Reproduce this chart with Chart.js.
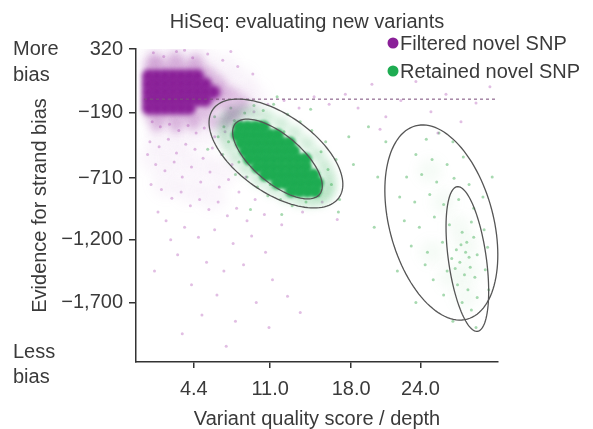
<!DOCTYPE html>
<html>
<head>
<meta charset="utf-8">
<script src="https://cdn.jsdelivr.net/npm/chart.js@4.4.1/dist/chart.umd.min.js"></script>
<style>
  html, body { margin: 0; padding: 0; background: #fff; }
  #wrap { width: 593px; height: 429px; }
</style>
</head>
<body>
<div id="wrap"><canvas id="chart" width="593" height="429"></canvas></div>
<script>
// axis ticks
const xTickValues = [4.4, 11.0, 18.0, 24.0];
const xTickLabels = ["4.4", "11.0", "18.0", "24.0"];
const yTickValues = [320, -190, -710, -1200, -1700];
const yTickLabels = ["320", "\u2212190", "\u2212710", "\u22121,200", "\u22121,700"];

// strand bias cut-off (dashed line)
const biasCutoff = -80;

// filtered novel SNP: dense core, halo, haze, sparse points  [x, y]
const filteredCore = [
  [0.5, 105], [1.2, 105], [1.9, 105], [2.6, 105], [3.3, 105], [4.0, 105], [4.7, 105],
  [0.5, 41], [1.2, 41], [1.9, 41], [2.6, 41], [3.3, 41], [4.0, 41], [4.7, 41], [5.4, 41],
  [0.5, -23], [1.2, -23], [1.9, -23], [2.6, -23], [3.3, -23], [4.0, -23], [4.7, -23], [5.4, -23], [6.1, -23],
  [0.5, -87], [1.2, -87], [1.9, -87], [2.6, -87], [3.3, -87], [4.0, -87], [4.7, -87], [5.4, -87],
  [0.5, -150], [1.2, -150], [1.9, -150], [2.6, -150], [3.3, -150], [4.0, -150]
];
const filteredHalo = [
  [0.6, 180], [1.5, 190], [2.4, 175], [3.3, 185], [4.2, 170], [5.1, 150], [5.8, 110],
  [6.5, 60], [6.9, 0], [6.7, -60], [6.2, -120], [5.4, -170], [4.6, -210], [3.6, -220],
  [2.6, -230], [1.6, -220], [0.7, -210], [7.4, -140], [8.0, -200], [7.2, -250], [6.0, -260],
  [1.2, -290], [2.9, -300], [4.4, -280], [7.8, -40], [8.6, -110], [1.0, 240], [2.8, 250], [4.6, 230]
];
const filteredHaze = [
  [1.0, 260], [3.0, 270], [5.0, 240], [7.0, 170], [8.5, 60], [9.5, -60], [9.0, -180],
  [7.5, -330], [5.5, -350], [3.5, -380], [1.5, -370], [1.0, -550], [3.0, -560], [5.0, -600],
  [7.0, -650], [2.0, -750], [4.0, -800], [6.0, -850]
];
const filteredSparse = [
  [0.8, -260], [1.5, -300], [2.3, -280], [3.1, -330], [3.9, -290], [4.6, -350], [5.3, -310], [6.2, -380],
  [7.1, -340], [0.6, -420], [1.4, -460], [2.2, -400], [2.9, -510], [3.7, -440], [4.5, -480], [5.2, -550],
  [6.0, -470], [6.8, -520], [7.7, -600], [1.1, -600], [1.9, -650], [2.7, -580], [3.4, -700], [4.2, -620],
  [5.0, -740], [5.8, -660], [6.6, -780], [7.4, -720], [8.3, -820], [1.6, -800], [2.5, -870], [3.3, -820],
  [4.1, -930], [4.9, -880], [5.7, -960], [6.5, -900], [7.3, -1010], [8.1, -950], [9.0, -1050],
  [2.0, -1050], [3.6, -1100], [4.8, -1180], [6.2, -1120], [7.8, -1230], [9.4, -1170], [10.6, -1300],
  [3.0, -1320], [5.5, -1380], [7.0, -1450], [8.7, -1400], [11.2, -1520], [4.2, -1560], [6.4, -1640],
  [9.8, -1700], [12.5, -1650], [5.1, -1800], [8.0, -1850], [10.9, -1900], [13.6, -1780], [3.4, -1950],
  [7.2, -2050], [8.5, -250], [9.6, -180], [10.8, -120], [12.2, -90], [13.5, -150], [14.8, -60],
  [16.1, -120], [17.5, -40], [8.9, -700], [9.7, -880], [10.5, -1000], [12.0, -1080], [13.8, -980],
  [15.5, -900], [16.8, -1040], [18.6, -150], [19.8, 40], [21.0, -220], [22.3, -90], [23.6, 60],
  [24.9, -180], [26.2, -40], [27.5, -260], [28.8, -110], [30.0, 20], [20.5, -320], [25.5, -350],
  [0.9, 290], [1.8, 260], [2.9, 300], [4.3, 250], [5.6, 280], [6.9, 230], [8.2, 180], [9.5, 120],
  [3.6, 310], [7.6, 300], [0.4, -520], [0.7, -760], [1.3, -980], [2.4, -1200], [1.0, -1450]
];

// retained novel SNP
const retainedCore = [
  [8.35, -302], [9.04, -302], [9.73, -302], [10.42, -302],
  [8.17, -366], [8.86, -366], [9.56, -366], [10.25, -366], [10.94, -366], [11.63, -366],
  [8.52, -429], [9.21, -429], [9.90, -429], [10.59, -429], [11.28, -429], [11.98, -429], [12.67, -429],
  [8.86, -493], [9.56, -493], [10.25, -493], [10.94, -493], [11.63, -493], [12.32, -493], [13.01, -493],
  [9.21, -557], [9.90, -557], [10.59, -557], [11.28, -557], [11.98, -557], [12.67, -557], [13.36, -557], [14.05, -557],
  [9.90, -621], [10.59, -621], [11.28, -621], [11.98, -621], [12.67, -621], [13.36, -621], [14.05, -621],
  [10.59, -685], [11.28, -685], [11.98, -685], [12.67, -685], [13.36, -685], [14.05, -685], [14.74, -685],
  [11.63, -748], [12.32, -748], [13.01, -748], [13.70, -748], [14.40, -748], [15.09, -748],
  [12.84, -812], [13.53, -812], [14.22, -812], [14.91, -812]
];
const retainedHalo = [
  [15.91, -833], [15.37, -872], [14.56, -887], [13.57, -878], [12.43, -847], [11.22, -792],
  [10.05, -721], [8.98, -638], [8.08, -545], [7.44, -452], [7.07, -367], [7.01, -291],
  [7.26, -232], [7.80, -194], [8.61, -179], [9.60, -187], [10.74, -219], [11.95, -273],
  [13.12, -345], [14.18, -430], [15.09, -521], [15.73, -613], [16.10, -699], [16.16, -775]
];
const retainedHaze = [
  [28.0, -1250], [28.1, -1450], [27.9, -1650], [27.3, -1100], [26.0, -900], [25.0, -1300],
  [24.8, -650], [26.6, -1500]
];
const retainedSparse = [
  [7.0, -300], [7.4, -420], [7.9, -250], [8.3, -580], [8.8, -190], [9.0, -700], [9.6, -130], [9.9, -780],
  [10.4, -170], [10.8, -850], [11.3, -120], [11.9, -880], [12.5, -200], [12.9, -930], [13.6, -260],
  [14.1, -900], [14.6, -330], [15.2, -850], [15.8, -420], [16.3, -760], [16.7, -560], [16.0, -640],
  [6.5, -380], [6.9, -520], [8.0, -680], [10.2, -260], [13.9, -780], [15.4, -500], [12.2, -340],
  [11.0, -760], [9.4, -620], [8.6, -420], [14.8, -700], [13.0, -820], [10.0, -330], [7.6, -150],
  [6.2, -220], [17.0, -880], [16.9, -980], [12.0, -1000], [9.3, -960], [18.2, -600], [17.8, -380],
  [5.6, -480], [11.6, -60], [14.5, -160],
  [24.5, -400], [25.6, -350], [26.8, -420], [23.6, -520], [25.0, -560], [26.3, -600], [27.7, -540],
  [22.8, -700], [24.1, -680], [25.4, -740], [26.9, -710], [28.2, -760], [22.2, -860], [23.5, -900],
  [24.8, -840], [26.0, -920], [27.3, -880], [28.6, -950], [29.4, -860], [22.6, -1050], [23.9, -1100],
  [25.2, -1020], [26.5, -1080], [27.6, -1140], [28.4, -1060], [29.5, -1120], [23.2, -1250], [24.6, -1300],
  [25.9, -1220], [27.1, -1280], [28.0, -1220], [28.9, -1320], [29.8, -1260], [27.4, -1380], [28.3, -1420],
  [27.8, -1480], [28.7, -1500], [27.2, -1560], [28.1, -1600], [28.9, -1660], [27.6, -1700], [28.4, -1760],
  [26.3, -1450], [25.1, -1520], [26.0, -1640], [24.4, -1400], [29.6, -1440], [27.9, -1300], [28.6, -1180],
  [27.0, -1430], [28.2, -1340], [27.5, -1240], [26.7, -1350], [21.0, -420], [20.3, -700], [19.5, -300],
  [30.2, -700], [29.9, -1600], [22.0, -1450], [23.6, -1700], [26.8, -1850], [28.8, -1900], [20.0, -1100]
];

// contour ellipses: centre and two conjugate semi-axes, in data units
const ellipseCentres = [[11.50, -513], [11.63, -557], [25.80, -1063], [28.05, -1354]];
const ellipseAxisU = [[5.45, -352], [3.64, -282], [2.24, -770], [0.88, -576]];
const ellipseAxisV = [[-1.94, -254], [-1.33, -147], [4.34, 108], [1.62, 21]];

const PURPLE = "rgb(138,32,152)";
const GREEN = "rgb(30,172,82)";
const TEXT = "#3a3a3a";
const FONT = "'Liberation Sans', Arial, Helvetica, sans-serif";

const toPts = (arr) => arr.map(([x, y]) => ({ x, y }));

// soften density layers
const blurLayers = {
  id: "blurLayers",
  beforeDatasetDraw(chart, args) {
    const b = chart.data.datasets[args.index].blur;
    if (b) {
      chart.ctx.save();
      chart.ctx.filter = "blur(" + b + "px)";
    }
  },
  afterDatasetDraw(chart, args) {
    if (chart.data.datasets[args.index].blur) chart.ctx.restore();
  }
};

const overlay = {
  id: "overlay",
  afterDatasetsDraw(chart) {
    const { ctx, chartArea, scales } = chart;
    const xs = scales.x, ys = scales.y;
    ctx.save();
    // dashed cut-off line
    const yy = ys.getPixelForValue(biasCutoff);
    ctx.strokeStyle = "rgba(125,80,125,0.8)";
    ctx.lineWidth = 1.3;
    ctx.setLineDash([3, 3]);
    ctx.beginPath();
    ctx.moveTo(chartArea.left + 8, yy);
    ctx.lineTo(chartArea.right, yy);
    ctx.stroke();
    ctx.setLineDash([]);
    // ellipses
    ctx.strokeStyle = "#555";
    ctx.lineWidth = 1.3;
    ellipseCentres.forEach((c, i) => {
      const u = ellipseAxisU[i], v = ellipseAxisV[i];
      ctx.beginPath();
      for (let k = 0; k <= 120; k++) {
        const t = (k / 120) * Math.PI * 2;
        const px = xs.getPixelForValue(c[0] + u[0] * Math.cos(t) + v[0] * Math.sin(t));
        const py = ys.getPixelForValue(c[1] + u[1] * Math.cos(t) + v[1] * Math.sin(t));
        if (k === 0) ctx.moveTo(px, py); else ctx.lineTo(px, py);
      }
      ctx.closePath();
      ctx.stroke();
    });
    ctx.restore();
  },
  afterDraw(chart) {
    const { ctx } = chart;
    ctx.save();
    ctx.fillStyle = TEXT;
    ctx.font = "20px " + FONT;
    ctx.textBaseline = "alphabetic";
    ctx.textAlign = "center";
    ctx.fillText("HiSeq: evaluating new variants", 307, 28);
    ctx.textAlign = "left";
    ctx.fillText("More", 13, 55);
    ctx.fillText("bias", 13, 81);
    ctx.fillText("Less", 13, 358);
    ctx.fillText("bias", 13, 383);
    // legend
    const items = [["Filtered novel SNP", PURPLE, 43], ["Retained novel SNP", GREEN, 71]];
    items.forEach(([label, col, y]) => {
      ctx.fillStyle = col;
      ctx.beginPath();
      ctx.arc(393, y, 5.5, 0, Math.PI * 2);
      ctx.fill();
      ctx.fillStyle = TEXT;
      ctx.fillText(label, 400, y + 7);
    });
    ctx.restore();
  }
};

const ctx = document.getElementById("chart").getContext("2d");
new Chart(ctx, {
  type: "scatter",
  data: {
    datasets: [
      { label: "Filtered novel SNP", data: toPts(filteredCore), backgroundColor: PURPLE, pointRadius: 7, blur: 2.6 },
      { label: "Retained novel SNP", data: toPts(retainedCore), backgroundColor: GREEN, pointRadius: 6.5, blur: 1.8 },
      { label: "filtered halo", data: toPts(filteredHalo), backgroundColor: "rgba(150,45,160,0.3)", pointRadius: 7, blur: 4 },
      { label: "retained halo", data: toPts(retainedHalo), backgroundColor: "rgba(40,170,80,0.25)", pointRadius: 7, blur: 4 },
      { label: "filtered haze", data: toPts(filteredHaze), backgroundColor: "rgba(190,110,195,0.07)", pointRadius: 14, blur: 6 },
      { label: "retained haze", data: toPts(retainedHaze), backgroundColor: "rgba(120,200,130,0.07)", pointRadius: 12, blur: 6 },
      { label: "filtered sparse", data: toPts(filteredSparse), backgroundColor: "rgba(170,70,175,0.35)", pointRadius: 1.5 },
      { label: "retained sparse", data: toPts(retainedSparse), backgroundColor: "rgba(60,170,80,0.45)", pointRadius: 1.5 }
    ]
  },
  options: {
    responsive: false,
    animation: false,
    devicePixelRatio: 1,
    layout: { padding: { top: 49, right: 95, left: 0, bottom: 0 } },
    elements: { point: { borderWidth: 0, hoverRadius: 0 } },
    plugins: { legend: { display: false }, tooltip: { enabled: false } },
    scales: {
      x: {
        type: "linear",
        min: -0.6,
        max: 30.7,
        afterFit: (s) => { s.height = 67; },
        afterBuildTicks: (s) => { s.ticks = xTickValues.map((v) => ({ value: v })); },
        ticks: {
          color: TEXT,
          font: { size: 20, family: FONT },
          padding: 9,
          maxRotation: 0,
          callback: (v, i) => xTickLabels[i]
        },
        grid: { drawOnChartArea: false, drawTicks: true, tickLength: 6, color: "#333", lineWidth: 1.5 },
        border: { display: true, color: "#333", width: 1.5 },
        title: {
          display: true,
          text: "Variant quality score / depth",
          color: TEXT,
          font: { size: 20, family: FONT },
          padding: { top: 0, bottom: -2 }
        }
      },
      y: {
        type: "linear",
        min: -2175,
        max: 320,
        afterFit: (s) => { s.width = 136; },
        afterBuildTicks: (s) => { s.ticks = yTickValues.map((v) => ({ value: v })); },
        ticks: {
          color: TEXT,
          font: { size: 20, family: FONT },
          padding: 6,
          callback: (v, i) => yTickLabels[i]
        },
        grid: { drawOnChartArea: false, drawTicks: true, tickLength: 7, color: "#333", lineWidth: 1.5 },
        border: { display: true, color: "#333", width: 1.5 },
        title: {
          display: true,
          text: "Evidence for strand bias",
          color: TEXT,
          font: { size: 20, family: FONT },
          padding: { top: 28, bottom: 0 }
        }
      }
    }
  },
  plugins: [blurLayers, overlay]
});
</script>
</body>
</html>
